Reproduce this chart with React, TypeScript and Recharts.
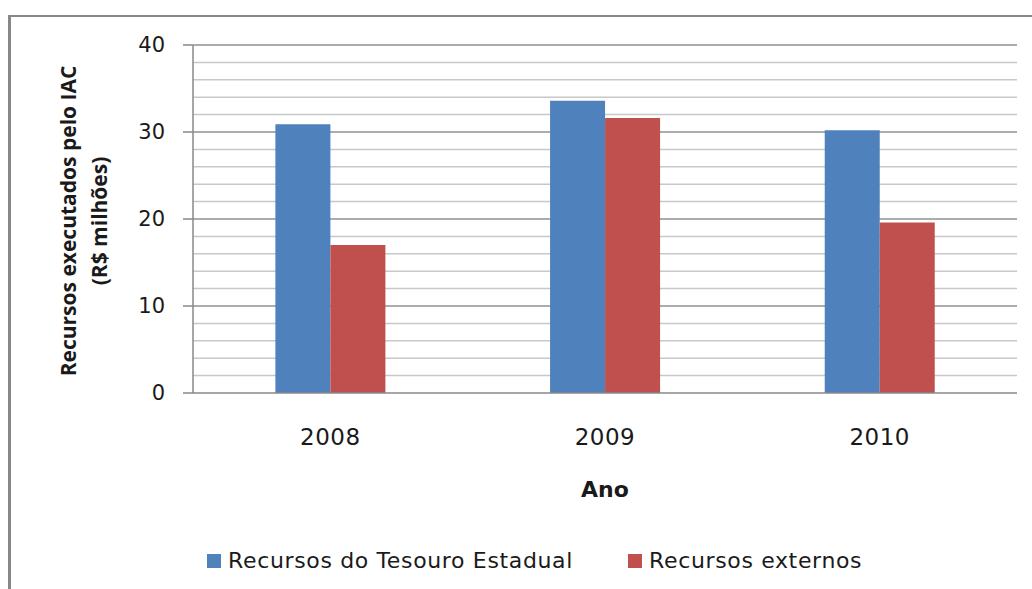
import React from "react";
import {
  BarChart,
  Bar,
  XAxis,
  YAxis,
  CartesianGrid,
  Legend,
} from "recharts";

const years = ["2008", "2009", "2010"];
const tesouro = [30.9, 33.6, 30.2];
const externos = [17.0, 31.6, 19.6];
const yTicks = [0, 10, 20, 30, 40];
const minorLines = [2, 4, 6, 8, 12, 14, 16, 18, 22, 24, 26, 28, 32, 34, 36, 38];
const majorLines = [10, 20, 30, 40];

const SERIES = [
  { key: "tesouro", name: "Recursos do Tesouro Estadual", color: "#4F81BD" },
  { key: "externos", name: "Recursos externos", color: "#C0504D" },
];

const data = years.map((ano, i) => ({
  ano,
  tesouro: tesouro[i],
  externos: externos[i],
}));

const TICK_FONT = "'DejaVu Sans', sans-serif";
const LABEL_FONT = "'Open Sans', sans-serif";

function YLabel(props: any) {
  const vb = props.viewBox || {};
  const cy = vb.y + vb.height / 2 + 2;
  return (
    <g fontFamily={LABEL_FONT} fontWeight={700} fontSize={21} fill="#1a1a1a">
      <text x={68} y={cy} textAnchor="middle" dominantBaseline="central" transform={`rotate(-90, 68, ${cy})`}>
        Recursos executados pelo IAC
      </text>
      <text x={99} y={cy} textAnchor="middle" dominantBaseline="central" transform={`rotate(-90, 99, ${cy})`}>
        (R$ milhões)
      </text>
    </g>
  );
}

function XLabel(props: any) {
  const vb = props.viewBox || {};
  return (
    <text
      x={vb.x + vb.width / 2}
      y={497}
      textAnchor="middle"
      fontFamily={TICK_FONT}
      fontWeight={700}
      fontSize={22}
      fill="#1a1a1a"
    >
      Ano
    </text>
  );
}

function LegendBox() {
  return (
    <div
      style={{
        display: "flex",
        alignItems: "center",
        gap: 55,
        fontFamily: TICK_FONT,
        fontSize: 22,
        letterSpacing: 0.65,
        color: "#1a1a1a",
        whiteSpace: "nowrap",
      }}
    >
      {SERIES.map((s) => (
        <span key={s.key} style={{ display: "flex", alignItems: "center", gap: 7 }}>
          <span style={{ display: "inline-block", width: 14, height: 14, background: s.color }} />
          {s.name}
        </span>
      ))}
    </div>
  );
}

export default function App() {
  return (
    <div style={{ position: "absolute", left: 0, top: 0, width: 1032, height: 589, overflow: "hidden", background: "#fff" }}>
      <div
        style={{
          position: "absolute",
          left: 8,
          top: 15,
          width: 1100,
          height: 700,
          borderLeft: "3px solid #888",
          borderTop: "2px solid #888",
        }}
      />
      <div style={{ position: "absolute", left: 0, top: 0 }}>
        <BarChart
          width={1032}
          height={589}
          data={data}
          margin={{ top: 45, right: 15, bottom: 86, left: 0 }}
          barCategoryGap="30%"
          barGap={0}
        >
          <CartesianGrid vertical={false} horizontalValues={minorLines} stroke="#c8c8c8" strokeWidth={1.5} />
          <CartesianGrid vertical={false} horizontalValues={majorLines} stroke="#909090" strokeWidth={1.5} />
          <XAxis
            dataKey="ano"
            height={110}
            tickSize={0}
            tickMargin={36}
            axisLine={{ stroke: "#888", strokeWidth: 1.5 }}
            tick={{ fill: "#1a1a1a", fontSize: 23, fontFamily: TICK_FONT, letterSpacing: 0.5 }}
            label={<XLabel />}
          />
          <YAxis
            width={193}
            domain={[0, 40]}
            ticks={yTicks}
            interval={0}
            tickSize={10}
            tickMargin={18}
            axisLine={{ stroke: "#888", strokeWidth: 1.5 }}
            tickLine={{ stroke: "#888", strokeWidth: 1.5 }}
            tick={{ fill: "#1a1a1a", fontSize: 21, fontFamily: TICK_FONT }}
            label={<YLabel />}
          />
          <Legend
            layout="horizontal"
            verticalAlign="middle"
            align="center"
            wrapperStyle={{ top: 548, left: 207, width: 800 }}
            content={() => <LegendBox />}
          />
          {SERIES.map((s) => (
            <Bar key={s.key} dataKey={s.key} name={s.name} fill={s.color} isAnimationActive={false} />
          ))}
        </BarChart>
      </div>
    </div>
  );
}
